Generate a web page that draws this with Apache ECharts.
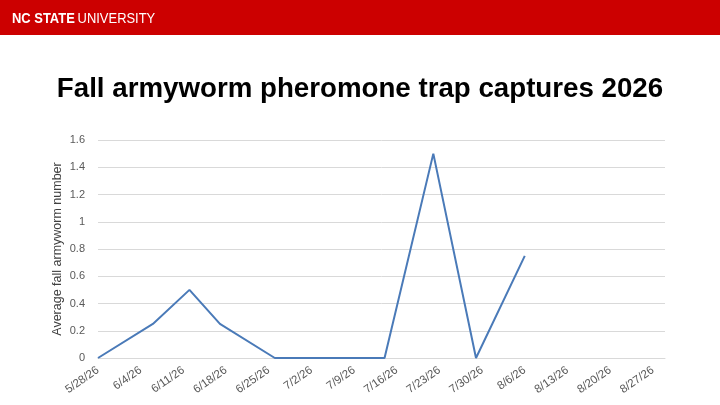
<!DOCTYPE html>
<html>
<head>
<meta charset="utf-8">
<script src="https://cdn.jsdelivr.net/npm/echarts@6/dist/echarts.min.js"></script>
<style>
  html, body { margin: 0; padding: 0; background: #fff; }
  #chart { width: 720px; height: 405px; }
</style>
</head>
<body>
<div id="chart"></div>
<script>
// trap dates and average captures
const sampleDates = ['2026-05-28', '2026-06-06', '2026-06-12', '2026-06-17', '2026-06-26',
    '2026-07-14', '2026-07-22', '2026-07-29', '2026-08-06'];
const avgCaptures = [0, 0.25, 0.5, 0.25, 0, 0, 1.5, 0, 0.75];

const axisStart = '2026-05-28';
const axisDays = 93;          // axis runs a bit past 8/27
const tickDays = 7;
const yTicks = [0, 0.2, 0.4, 0.6, 0.8, 1, 1.2, 1.4, 1.6];

const DAY = 86400000;
const t0 = Date.parse(axisStart + 'T00:00:00Z');
const dayOf = (s) => Math.round((Date.parse(s + 'T00:00:00Z') - t0) / DAY);
const dayLabel = (d) => {
    const dt = new Date(t0 + d * DAY);
    return (dt.getUTCMonth() + 1) + '/' + dt.getUTCDate() + '/26';
};

const chart = echarts.init(document.getElementById('chart'), null, { renderer: 'canvas' });

chart.setOption({
    backgroundColor: '#fff',
    animation: false,
    title: {
        text: 'Fall armyworm pheromone trap captures 2026',
        left: 'center',
        top: 70,
        textStyle: {
            fontFamily: 'Liberation Sans, Arial, sans-serif',
            fontWeight: 'bold',
            fontSize: 27.7,
            color: '#000',
        },
    },
    graphic: [
        {
            type: 'rect',
            left: 0, top: 0,
            shape: { width: 720, height: 35 },
            style: { fill: '#cc0000' },
            silent: true,
        },
        {
            // condensed wordmark: squeeze a regular face horizontally
            type: 'text',
            x: 12, y: 11,
            scaleX: 0.835,
            style: {
                text: '{b|NC STATE} {r|UNIVERSITY}',
                rich: {
                    b: { fontFamily: 'Liberation Sans, Arial, sans-serif', fontWeight: 'bold', fontSize: 15.5, fill: '#fff' },
                    r: { fontFamily: 'Liberation Sans, Arial, sans-serif', fontSize: 15.5, fill: '#fff' },
                },
            },
        },
    ],
    grid: {
        left: 98,
        right: 55,
        top: 140,
        bottom: 47,
        containLabel: false,
    },
    xAxis: {
        type: 'value',
        min: 0,
        max: axisDays,
        interval: tickDays,
        axisLine: { show: true, lineStyle: { color: '#d9d9d9', width: 1 } },
        axisTick: { show: false },
        splitLine: { show: false },
        axisLabel: {
            rotate: 35,
            color: '#595959',
            fontSize: 11.5,
            fontFamily: 'Liberation Sans, Arial, sans-serif',
            margin: 11,
            showMaxLabel: false,
            formatter: (v) => (v % tickDays === 0 ? dayLabel(v) : ''),
        },
    },
    yAxis: {
        type: 'value',
        min: yTicks[0],
        max: yTicks[yTicks.length - 1],
        interval: 0.2,
        name: 'Average fall armyworm number',
        nameLocation: 'middle',
        nameGap: 34,
        nameMoveOverlap: false,
        nameTextStyle: {
            color: '#404040',
            fontSize: 12.5,
            fontFamily: 'Liberation Sans, Arial, sans-serif',
        },
        axisLine: { show: false },
        axisTick: { show: false },
        axisLabel: {
            color: '#595959',
            fontSize: 11,
            fontFamily: 'Liberation Sans, Arial, sans-serif',
            margin: 13,
            formatter: (v) => String(Math.round(v * 10) / 10),
        },
        splitLine: { lineStyle: { color: '#d9d9d9', width: 1 } },
    },
    series: [
        {
            type: 'line',
            data: sampleDates.map((d, i) => [dayOf(d), avgCaptures[i]]),
            symbol: 'none',
            lineStyle: { color: '#4a7ab8', width: 2 },
            itemStyle: { color: '#4a7ab8' },
        },
    ],
});
</script>
</body>
</html>
